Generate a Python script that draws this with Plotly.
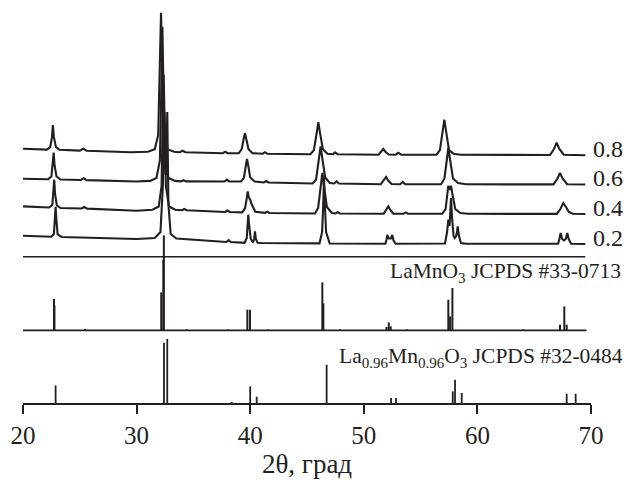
import plotly.graph_objects as go

# ---- measured XRD patterns (2θ in degrees, intensity in arbitrary units) ----
angles_08 = [20.0, 22.1, 22.4, 22.55, 22.63, 22.72, 22.9, 23.2, 25.0, 25.3, 25.6, 29.5, 31.0, 31.6,
             31.9, 32.02, 32.15, 32.28, 32.4, 32.7, 33.3, 33.8, 34.05, 34.3, 37.6, 37.8, 38.0, 39.0,
             39.25, 39.42, 39.54, 39.66, 39.85, 40.2, 41.1, 41.3, 41.5, 45.3, 45.6, 45.85, 46.0, 46.15,
             46.4, 46.8, 47.3, 47.46, 47.7, 51.3, 51.55, 51.72, 51.9, 52.2, 52.8, 53.04, 53.3, 56.4,
             56.7, 56.95, 57.09, 57.23, 57.5, 57.9, 58.5, 66.4, 66.75, 66.98, 67.2, 67.6, 69.5]
counts_08 = [6.5, 5.6, 8.0, 18, 30, 18, 8, 5.5, 4.6, 6.5, 4.5, 3.0, 3.5, 6,
             20, 70, 142.5, 70, 20, 6, 3.5, 3.0, 4.5, 3.0, 2.0, 3.5, 2.0, 2.0,
             6, 16, 22, 16, 6, 2.0, 1.5, 3, 1.5, 1, 5, 22, 33, 22,
             6, 1.5, 1.0, 2.8, 1.0, 0.5, 3.5, 6.2, 3.5, 0.7, 0.5, 2.5, 0.5, 0.5,
             5, 25, 35.5, 25, 5, 1.5, 0.5, 0.2, 6.5, 12.5, 6.5, 0.5, 0]

angles_06 = [20.0, 22.2, 22.5, 22.62, 22.7, 22.78, 22.95, 23.3, 25.1, 25.35, 25.6, 30.0, 31.2, 31.75,
             32.05, 32.15, 32.27, 32.39, 32.5, 32.8, 33.4, 33.9, 34.12, 34.35, 37.75, 37.95, 38.15, 39.2,
             39.45, 39.6, 39.72, 39.84, 40.0, 40.4, 41.2, 41.4, 41.6, 45.5, 45.8, 46.05, 46.2, 46.35,
             46.6, 47.0, 47.4, 47.6, 47.8, 51.5, 51.78, 51.96, 52.14, 52.45, 53.2, 53.43, 53.65, 56.8,
             57.1, 57.3, 57.44, 57.58, 57.85, 58.3, 59.0, 66.7, 67.05, 67.27, 67.5, 67.9, 69.5]
counts_06 = [5.8, 5.2, 8.0, 19, 32, 19, 8, 5.0, 4.5, 6.3, 4.4, 3.0, 3.6, 6.5,
             24, 80, 157.8, 80, 24, 6.5, 3.6, 3.1, 4.3, 3.1, 3.0, 4.8, 3.0, 3.0,
             7, 18, 25.5, 18, 7, 3.0, 2.0, 3.5, 2.0, 1.0, 5, 26, 38, 26,
             7, 1.5, 1.0, 3.3, 1.0, 0.3, 4, 7.5, 4, 0.5, 0.3, 2.5, 0.3, 0.2,
             6, 26, 36.5, 26, 6, 1.5, 0.2, 0.1, 6, 11.5, 6, 0.3, 0]

angles_04 = [20.0, 22.3, 22.58, 22.68, 22.75, 22.82, 22.98, 23.3, 25.15, 25.4, 25.65, 30.0, 31.4, 31.95,
             32.2, 32.28, 32.38, 32.48, 32.58, 32.85, 33.4, 34.0, 34.2, 34.4, 37.8, 38.0, 38.2, 39.3,
             39.55, 39.7, 39.78, 39.86, 40.0, 40.12, 40.45, 41.3, 41.5, 41.7, 45.7, 45.98, 46.2, 46.35,
             46.5, 46.75, 47.2, 47.5, 47.7, 47.9, 51.75, 51.98, 52.16, 52.34, 52.6, 53.5, 53.7, 53.9,
             56.9, 57.2, 57.35, 57.44, 57.56, 57.68, 57.8, 58.05, 58.5, 59.2, 67.0, 67.3, 67.56, 67.7,
             67.8, 68.05, 68.4, 69.5]
counts_04 = [7.6, 6.5, 9.0, 20, 34.3, 20, 8.5, 6.0, 5.5, 7.0, 5.4, 3.3, 4.2, 7.5,
             28, 85, 139.3, 85, 28, 7.5, 4.3, 3.8, 5.0, 3.8, 2.0, 3.5, 2.0, 1.6,
             6, 16, 22.6, 17, 14.3, 10, 2.2, 1.1, 2.3, 1.0, 0.5, 6, 28, 41,
             28, 7, 1.0, 0.5, 1.8, 0.5, 0.3, 4, 7.6, 4, 0.3, 0.2, 1.6, 0.2,
             0.2, 5, 20, 28.3, 24, 28.3, 20, 5, 1.0, 0.2, 0.1, 5, 11, 9,
             7, 2.0, 0.2, 0]

angles_02 = [20.0, 22.5, 22.72, 22.8, 22.87, 22.94, 23.05, 23.4, 30.0, 31.6, 32.1, 32.32, 32.45, 32.55,
             32.6, 32.7, 32.8, 33.0, 33.5, 37.9, 38.1, 38.3, 39.5, 39.7, 39.78, 39.83, 39.9, 40.05,
             40.25, 40.35, 40.42, 40.5, 40.65, 41.0, 46.1, 46.33, 46.43, 46.5, 46.57, 46.68, 47.0, 51.9,
             51.99, 52.07, 52.2, 52.38, 52.51, 52.6, 52.8, 57.15, 57.33, 57.44, 57.55, 57.62, 57.68, 57.76,
             57.9, 58.0, 58.13, 58.2, 58.27, 58.36, 58.55, 59.0, 67.1, 67.22, 67.33, 67.46, 67.62, 67.78,
             67.91, 68.03, 68.25, 69.5]
counts_02 = [8.3, 7.3, 10, 24, 37.3, 24, 9.5, 7.0, 5.0, 6.0, 12, 60, 132, 70,
             70, 132, 40, 10, 5.5, 2.0, 3.8, 2.0, 1.2, 6, 20, 29.3, 20, 5,
             1.5, 5, 12.6, 5, 1.2, 1.0, 0.6, 12, 40, 66, 40, 12, 0.5, 0.3,
             4, 9, 5.5, 5.5, 9, 4, 0.3, 0.5, 12, 24.3, 18, 30, 46, 28,
             8, 6, 8, 12, 17.6, 9, 1.0, 0.2, 0.2, 5, 11, 5, 3.5, 5,
             11, 5, 0.2, 0]

series_labels = ["0.8", "0.6", "0.4", "0.2"]
series_angles = [angles_08, angles_06, angles_04, angles_02]
series_counts = [counts_08, counts_06, counts_04, counts_02]

# ---- reference cards (2θ, relative intensity) ----
lamno3_angles = [22.73, 22.77, 25.46, 32.17, 32.35, 32.40, 34.4, 38.07, 39.75, 39.98, 41.6, 46.35,
                 46.44, 47.9, 52.0, 52.2, 52.37, 53.78, 57.44, 57.6, 57.8, 64.04, 67.27, 67.65, 67.86]
lamno3_int = [31.4, 25, 1.5, 38, 70.7, 95, 1, 1, 20.7, 20.7, 1, 48,
              27, 1, 3.4, 8, 4, 1, 30.7, 14, 42.4, 1, 5.7, 24, 5.7]

la096_angles = [22.87, 32.41, 32.70, 38.37, 40.0, 40.57, 46.73, 52.4, 52.83, 57.83, 58.03, 58.62,
                67.86, 68.65]
la096_int = [17.6, 60.3, 64, 1, 16.6, 6.3, 38.3, 5, 5, 11.6, 23.3, 10, 9.3, 9.3]

card_labels = ["LaMnO<sub>3</sub> JCPDS #33-0713",
               "La<sub>0.96</sub>Mn<sub>0.96</sub>O<sub>3</sub> JCPDS #32-0484"]

# ---- layout constants ----
INK = "#231f20"
SERIF = "Liberation Serif"
X0, X1 = 20, 70
series_offsets = [247.8, 218.5, 189.0, 159.0]
card_offsets = [72.6, 0.0]
separator_y = 146.3


def to_paper(a):
    return (a - X0) / (X1 - X0)


fig = go.Figure()

for lab, xs, ys, off in zip(series_labels, series_angles, series_counts, series_offsets):
    assert len(xs) == len(ys), lab
    fig.add_trace(go.Scatter(x=xs, y=[v + off for v in ys], mode="lines",
                             line=dict(color=INK, width=2.1), hoverinfo="skip",
                             showlegend=False, cliponaxis=False))
    fig.add_annotation(x=to_paper(70.0), y=off + 6.5, xref="paper", yref="y", text=lab,
                       showarrow=False, xanchor="left", yanchor="middle",
                       font=dict(family=SERIF, size=24, color=INK))


def stick_trace(angles, heights, base, width):
    xs, ys = [], []
    for a, h in zip(angles, heights):
        xs += [a, a, None]
        ys += [base, base + h, None]
    return go.Scatter(x=xs, y=ys, mode="lines", line=dict(color=INK, width=width),
                      hoverinfo="skip", showlegend=False, cliponaxis=False)


fig.add_trace(stick_trace(lamno3_angles, lamno3_int, card_offsets[0], 2))
fig.add_trace(stick_trace(la096_angles, la096_int, card_offsets[1], 1.8))

# separator between measured patterns and cards, and the baseline of the upper card
fig.add_shape(type="line", xref="x", yref="y", x0=20, x1=69.5, y0=separator_y, y1=separator_y,
              line=dict(color=INK, width=1.6))
fig.add_shape(type="line", xref="x", yref="y", x0=20, x1=69.6, y0=card_offsets[0], y1=card_offsets[0],
              line=dict(color=INK, width=1.6))

fig.add_annotation(x=to_paper(72.82), y=131.0, xref="paper", yref="y", text=card_labels[0],
                   showarrow=False, xanchor="right", yanchor="middle",
                   font=dict(family=SERIF, size=21.5, color=INK))
fig.add_annotation(x=to_paper(73.0), y=45.5, xref="paper", yref="y", text=card_labels[1],
                   showarrow=False, xanchor="right", yanchor="middle",
                   font=dict(family=SERIF, size=21.5, color=INK))

fig.update_layout(
    width=630, height=480,
    margin=dict(l=23, r=39, t=5, b=77),
    paper_bgcolor="white", plot_bgcolor="white",
    showlegend=False,
    xaxis=dict(range=[X0, X1], tickvals=[20, 30, 40, 50, 60, 70], ticks="outside", ticklen=9,
               tickwidth=1.5, tickcolor=INK, showline=True, linecolor=INK, linewidth=1.6,
               showgrid=False, zeroline=False, automargin=False,
               tickfont=dict(family=SERIF, size=25, color=INK),
               title=dict(text="2θ, град", standoff=4, font=dict(family=SERIF, size=27, color=INK))),
    yaxis=dict(range=[0, 398], visible=False, showgrid=False, zeroline=False, fixedrange=True),
)

fig.write_html("out.html")
